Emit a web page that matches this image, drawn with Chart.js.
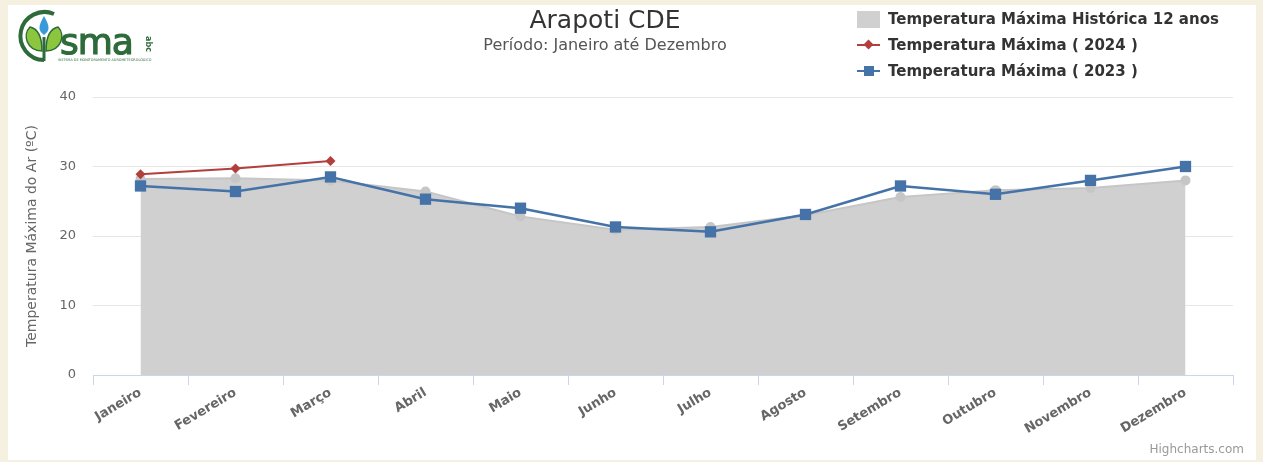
<!DOCTYPE html>
<html lang="pt-BR">
<head>
<meta charset="utf-8">
<title>Arapoti CDE</title>
<script src="https://cdn.jsdelivr.net/npm/chart.js@4.4.1/dist/chart.umd.min.js"></script>
<style>
  html, body { margin: 0; padding: 0; }
  body {
    width: 1263px; height: 462px; overflow: hidden; position: relative;
    background: #f6f0e0;
    font-family: "DejaVu Sans", Verdana, sans-serif;
  }
  #painel {
    position: absolute; left: 8px; top: 5px; width: 1248px; height: 455px;
    background: #ffffff;
  }
  #grafikSuhu { position: absolute; left: 0; top: 0; }
  #judul {
    position: absolute; left: 0; width: 1194px; top: 0px; text-align: center;
    font-size: 25px; color: #333333;
  }
  #subjudul {
    position: absolute; left: 0; width: 1194px; top: 30px; text-align: center;
    font-size: 16px; color: #555555;
  }
  #legenda {
    position: absolute; left: 849px; top: 1px;
  }
  .item-legenda {
    position: relative; height: 26px; line-height: 26px;
    padding-left: 31px; font-size: 15px; font-weight: bold; color: #333333;
    white-space: nowrap;
  }
  .simbol { position: absolute; left: 0; top: 13px; width: 23px; }
  #kredit {
    position: absolute; right: 12px; bottom: 4px;
    font-size: 12px; color: #999999;
  }
  #logo { position: absolute; left: 2px; top: 2px; }
</style>
</head>
<body>
<div id="painel">
  <canvas id="grafikSuhu" width="1248" height="455"></canvas>

  <svg id="logo" width="160" height="58" viewBox="0 0 160 58">
    <!-- lingkaran hijau tua -->
    <path d="M44 7 A 24 24 0 1 0 34 53" fill="none" stroke="#2e6b3a" stroke-width="4"/>
    <!-- daun -->
    <path d="M20 20 C 12 28, 17 44, 32 44 C 32 32, 29 22, 20 20 Z" fill="#8cc63f" stroke="#2e6b3a" stroke-width="1.5"/>
    <path d="M48 20 C 56 28, 51 44, 36 44 C 36 32, 39 22, 48 20 Z" fill="#8cc63f" stroke="#2e6b3a" stroke-width="1.5"/>
    <path d="M34 30 L 34 54" stroke="#2e6b3a" stroke-width="3"/>
    <!-- tetes air -->
    <path d="M34 9 C 29 18, 27 23, 34 28 C 41 23, 39 18, 34 9 Z" fill="#3a9ad9"/>
    <text x="50" y="47" font-family="DejaVu Sans, sans-serif" font-size="36"
          fill="#2e6b3a" stroke="#2e6b3a" stroke-width="1.2" letter-spacing="-1">sma</text>
    <text x="0" y="0" font-family="DejaVu Sans, sans-serif" font-size="8" font-weight="bold"
          fill="#2e6b3a" transform="translate(136 29) rotate(90)">abc</text>
    <text x="48" y="54" font-family="DejaVu Sans, sans-serif" font-size="3.4" fill="#2e6b3a">SISTEMA DE MONITORAMENTO AGROMETEOROLÓGICO</text>
  </svg>

  <div id="judul">Arapoti CDE</div>
  <div id="subjudul">Período: Janeiro até Dezembro</div>
  <div id="legenda"></div>
  <div id="kredit">Highcharts.com</div>
</div>

<script>
// Bulan (kategori sumbu X)
const bulan = [
    'Janeiro', 'Fevereiro', 'Março', 'Abril', 'Maio', 'Junho',
    'Julho', 'Agosto', 'Setembro', 'Outubro', 'Novembro', 'Dezembro'
];

// Suhu maksimum historis 12 tahun (°C)
const suhuHistoris = [28.2, 28.3, 28.0, 26.4, 22.8, 20.9, 21.3, 23.0, 25.6, 26.6, 26.9, 28.0];

// Suhu maksimum 2024 — baru tersedia sampai Maret
const suhu2024 = [28.9, 29.7, 30.8, null, null, null, null, null, null, null, null, null];

// Suhu maksimum 2023
const suhu2023 = [27.2, 26.4, 28.5, 25.3, 24.0, 21.3, 20.6, 23.1, 27.2, 26.0, 28.0, 30.0];

// Label sumbu Y
const tickSumbuY = [0, 10, 20, 30, 40];

const abuArea  = '#d0d0d0';
const merah    = '#b13f3c';
const biru     = '#4572a7';

const datasets = [
    {
        label: 'Temperatura Máxima Histórica 12 anos',
        data: suhuHistoris,
        borderColor: '#c6c6c6',
        backgroundColor: abuArea,
        borderWidth: 2,
        fill: 'origin',
        pointStyle: 'circle',
        pointRadius: 5,
        pointBackgroundColor: '#c6c6c6',
        pointBorderWidth: 0,
        tension: 0,
        order: 3,
        simbol: 'area'
    },
    {
        label: 'Temperatura Máxima ( 2024 )',
        data: suhu2024,
        borderColor: merah,
        backgroundColor: merah,
        borderWidth: 2,
        fill: false,
        pointStyle: 'rectRot',
        pointRadius: 5,
        pointBorderWidth: 0,
        order: 1,
        simbol: 'diamond'
    },
    {
        label: 'Temperatura Máxima ( 2023 )',
        data: suhu2023,
        borderColor: biru,
        backgroundColor: biru,
        borderWidth: 2.5,
        fill: false,
        pointStyle: 'rect',
        pointRadius: 8,
        pointBorderWidth: 0,
        order: 2,
        simbol: 'square'
    }
];

// Legenda dibuat dari dataset
const legenda = document.getElementById('legenda');
datasets.forEach(ds => {
    const item = document.createElement('div');
    item.className = 'item-legenda';
    let simbol;
    if (ds.simbol === 'area') {
        simbol = `<div class="simbol" style="top:5px;height:17px;background:${ds.backgroundColor}"></div>`;
    } else if (ds.simbol === 'diamond') {
        simbol = `<div class="simbol" style="height:2px;margin-top:-1px;background:${ds.borderColor}"></div>
                  <div style="position:absolute;left:8px;top:9px;width:7px;height:7px;transform:rotate(45deg);background:${ds.borderColor}"></div>`;
    } else {
        simbol = `<div class="simbol" style="height:2px;margin-top:-1px;background:${ds.borderColor}"></div>
                  <div style="position:absolute;left:7px;top:8px;width:10px;height:10px;background:${ds.borderColor}"></div>`;
    }
    item.innerHTML = simbol + ds.label;
    legenda.appendChild(item);
});

const ctx = document.getElementById('grafikSuhu').getContext('2d');

new Chart(ctx, {
    type: 'line',
    data: {
        labels: bulan,
        datasets: datasets
    },
    options: {
        responsive: false,
        animation: false,
        layout: {
            padding: { top: 92, right: 23, bottom: 0, left: 0 }
        },
        plugins: {
            legend: { display: false },
            tooltip: { enabled: false }
        },
        scales: {
            x: {
                offset: true,
                grid: {
                    offset: true,
                    drawOnChartArea: false,
                    drawTicks: true,
                    tickLength: 10,
                    color: '#ccd6eb'
                },
                border: { color: '#ccd6eb', width: 1 },
                ticks: {
                    minRotation: 31,
                    maxRotation: 31,
                    padding: 0,
                    color: '#666666',
                    font: { family: 'DejaVu Sans', size: 13, weight: 'bold' }
                },
                afterFit: scale => { scale.height = 85; }
            },
            y: {
                min: 0,
                max: 40,
                afterBuildTicks: scale => {
                    scale.ticks = tickSumbuY.map(v => ({ value: v }));
                },
                grid: {
                    color: '#e6e6e6',
                    drawTicks: false
                },
                border: { display: false },
                ticks: {
                    padding: 17,
                    color: '#666666',
                    font: { family: 'DejaVu Sans', size: 13 }
                },
                title: {
                    display: true,
                    text: 'Temperatura Máxima do Ar (ºC)',
                    color: '#666666',
                    font: { family: 'DejaVu Sans', size: 14, weight: 'normal' },
                    padding: { top: 16, bottom: 0 }
                },
                afterFit: scale => { scale.width = 85; }
            }
        }
    }
});
</script>
</body>
</html>
